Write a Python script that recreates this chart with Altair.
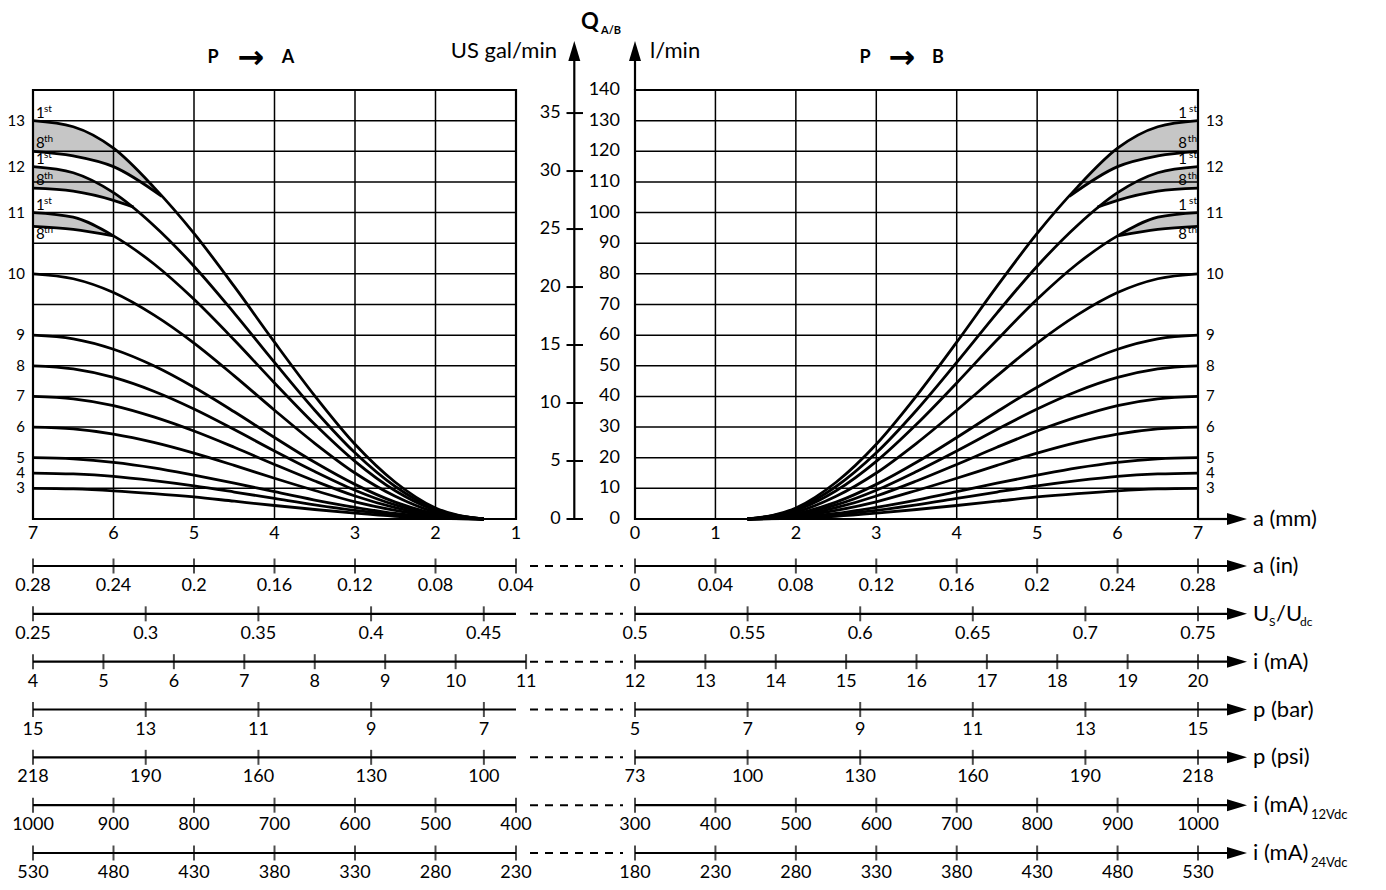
import altair as alt
import pandas as pd

FONT = "Lato"
INK = "#000000"
BAND = "#c6c6c6"

# ------------------------------------------------------------------ data
# spool stroke a (mm) and flow Q (l/min) of each characteristic curve
A_GRID = [1.4, 2.0, 2.5, 3.0, 3.5, 4.0, 4.5, 5.0, 5.5, 6.0, 6.5, 7.0]
CURVE_NAMES = ["3", "4", "5", "6", "7", "8", "9", "10", "11", "12", "13"]
Q_3 = [0, 0.3, 0.9, 1.9, 3.1, 4.4, 5.8, 7.2, 8.3, 9.2, 9.8, 10]
Q_4 = [0, 0.4, 1.4, 2.8, 4.6, 6.7, 8.8, 10.8, 12.5, 13.9, 14.7, 15]
Q_5 = [0, 0.6, 1.8, 3.8, 6.2, 8.9, 11.7, 14.3, 16.7, 18.5, 19.6, 20]
Q_6 = [0, 0.8, 2.8, 5.6, 9.3, 13.3, 17.5, 21.5, 25.0, 27.7, 29.4, 30]
Q_7 = [0, 1.1, 3.7, 7.5, 12.4, 17.8, 23.4, 28.7, 33.3, 37.0, 39.2, 40]
Q_8 = [0, 1.4, 4.6, 9.4, 15.5, 22.2, 29.2, 35.9, 41.7, 46.2, 49.0, 50]
Q_9 = [0, 1.7, 5.5, 11.3, 18.5, 26.6, 35.0, 43.0, 50.0, 55.4, 58.8, 60]
Q_10 = [0, 2.2, 7.4, 15.0, 24.7, 35.5, 46.7, 57.4, 66.6, 73.9, 78.4, 80]
Q_11 = [0, 2.8, 9.2, 18.8, 30.9, 44.4, 58.4, 71.7, 83.3, 92.4, 98.5, 100]
Q_12 = [0, 3.2, 10.6, 21.6, 35.5, 51.1, 67.2, 82.5, 95.8, 106.5, 113.0, 115]
Q_13 = [0, 3.6, 12.0, 24.4, 40.2, 57.7, 75.9, 93.2, 108.3, 121.0, 128.0, 130]
CURVE_VALUES = [Q_3, Q_4, Q_5, Q_6, Q_7, Q_8, Q_9, Q_10, Q_11, Q_12, Q_13]

# grey bands between the "1st" and "8th" curves of the three largest sizes
BAND_NAMES = ["11", "12", "13"]
A_11_BAND = [6.0, 6.5, 7.0]
Q_11_1ST = [92.4, 98.5, 100]
Q_11_8TH = [92.4, 94.5, 95.5]
A_12_BAND = [5.75, 6.0, 6.5, 7.0]
Q_12_1ST = [101.8, 106.5, 113.0, 115]
Q_12_8TH = [101.8, 104.0, 107.0, 108.0]
A_13_BAND = [5.4, 6.0, 6.5, 7.0]
Q_13_1ST = [105.3, 121.0, 128.0, 130]
Q_13_8TH = [105.3, 115.0, 118.5, 120.0]
BAND_A = [A_11_BAND, A_12_BAND, A_13_BAND]
BAND_1ST = [Q_11_1ST, Q_12_1ST, Q_13_1ST]
BAND_8TH = [Q_11_8TH, Q_12_8TH, Q_13_8TH]

A_LEFT = [7, 6, 5, 4, 3, 2, 1]
A_RIGHT = [0, 1, 2, 3, 4, 5, 6, 7]
Q_GRID = [0, 10, 20, 30, 40, 50, 60, 70, 80, 90, 100, 110, 120, 130, 140]
GAL_TICKS = [0, 5, 10, 15, 20, 25, 30, 35]
LPM_PER_GAL = 3.785

# auxiliary scales under the chart
ROW_KEYS = ["in", "U", "mA", "bar", "psi", "i12", "i24"]
IN_L = [0.28, 0.24, 0.2, 0.16, 0.12, 0.08, 0.04]
IN_R = [0, 0.04, 0.08, 0.12, 0.16, 0.2, 0.24, 0.28]
U_L = [0.25, 0.3, 0.35, 0.4, 0.45]
U_R = [0.5, 0.55, 0.6, 0.65, 0.7, 0.75]
MA_L = [4, 5, 6, 7, 8, 9, 10, 11]
MA_R = [12, 13, 14, 15, 16, 17, 18, 19, 20]
BAR_L = [15, 13, 11, 9, 7]
BAR_R = [5, 7, 9, 11, 13, 15]
PSI_L = ["218", "190", "160", "130", "100"]
PSI_R = ["73", "100", "130", "160", "190", "218"]
I12_L = [1000, 900, 800, 700, 600, 500, 400]
I12_R = [300, 400, 500, 600, 700, 800, 900, 1000]
I24_L = [530, 480, 430, 380, 330, 280, 230]
I24_R = [180, 230, 280, 330, 380, 430, 480, 530]

# value of each auxiliary scale at a = 7 mm / 1 mm (left) and a = 0 / 7 mm (right)
LEFT_SPAN = {"in": (0.28, 0.04), "U": (0.25, 0.4643), "mA": (4, 10.857),
             "bar": (15, 6.43), "psi": (15, 6.43), "i12": (1000, 400), "i24": (530, 230)}
LEFT_END = {"in": 0.04, "U": 0.4643, "mA": 11, "bar": 6.43, "psi": 6.43, "i12": 400, "i24": 230}
RIGHT_SPAN = {"in": (0, 0.28), "U": (0.5, 0.75), "mA": (12, 20), "bar": (5, 15),
              "psi": (5, 15), "i12": (300, 1000), "i24": (180, 530)}


def fmt(v):
    return f"{v:g}"


ROW_TICKS = {
    "in": (IN_L, [fmt(v) for v in IN_L], IN_R, [fmt(v) for v in IN_R]),
    "U": (U_L, [fmt(v) for v in U_L], U_R, [fmt(v) for v in U_R]),
    "mA": (MA_L, [fmt(v) for v in MA_L], MA_R, [fmt(v) for v in MA_R]),
    "bar": (BAR_L, [fmt(v) for v in BAR_L], BAR_R, [fmt(v) for v in BAR_R]),
    "psi": (BAR_L, PSI_L, BAR_R, PSI_R),
    "i12": (I12_L, [fmt(v) for v in I12_L], I12_R, [fmt(v) for v in I12_R]),
    "i24": (I24_L, [fmt(v) for v in I24_L], I24_R, [fmt(v) for v in I24_R]),
}

# ------------------------------------------------------------------ tables
rows = []
for name, vals in zip(CURVE_NAMES, CURVE_VALUES):
    for a, q in zip(A_GRID, vals):
        rows.append({"id": name + "-1st", "a": a, "q": q})
band_rows = []
for name, aa, v1, v8 in zip(BAND_NAMES, BAND_A, BAND_1ST, BAND_8TH):
    for a, q1, q8 in zip(aa, v1, v8):
        rows.append({"id": name + "-8th", "a": a, "q": q8})
        band_rows.append({"id": name, "a": a, "q1": q1, "q8": q8})
curves_df = pd.DataFrame(rows)
band_df = pd.DataFrame(band_rows)

end_df = pd.DataFrame({"name": CURVE_NAMES, "a": A_GRID[-1],
                       "q": [v[-1] for v in CURVE_VALUES]})
ord_above = pd.DataFrame({
    "digit": ["1", "1", "1", "8", "8"],
    "sup": ["st", "st", "st", "th", "th"],
    "a": A_GRID[-1],
    "q": [Q_11_1ST[-1], Q_12_1ST[-1], Q_13_1ST[-1], Q_12_8TH[-1], Q_13_8TH[-1]],
})
ord_below = pd.DataFrame({"digit": ["8"], "sup": ["th"], "a": A_GRID[-1], "q": [Q_11_8TH[-1]]})

# ------------------------------------------------------------------ scales
SX_L = alt.Scale(domain=[7, 1], range=[25, 508])
SX_R = alt.Scale(domain=[0, 7], range=[627, 1190])
SY_Q = alt.Scale(domain=[0, 140], range=[511, 82])
SY_GAL = alt.Scale(domain=[0, 140 / LPM_PER_GAL], range=[511, 82])
SY_ROW = alt.Scale(type="point", domain=ROW_KEYS, range=[558, 845], padding=0)

UP = "M-0.6,1L0,-1L0.6,1Z"
RIGHT = "M-1,-0.6L1,0L-1,0.6Z"
ARROW_X = 1229
LINE_END_X = 1222
NAME_X = 1245

layers = []


def txt(text, x, y, size=18, weight="normal", align="center", font=FONT):
    return alt.Chart(pd.DataFrame({"t": [text]})).mark_text(
        font=font, fontSize=size, fontWeight=weight, align=align,
        baseline="middle", color=INK
    ).encode(x=alt.value(x), y=alt.value(y), text="t:N")


def panel(sx, ticks, side):
    X = alt.X("a:Q", scale=sx, axis=None)
    Y = alt.Y("q:Q", scale=SY_Q, axis=None)
    out = []
    out.append(alt.Chart(band_df).mark_area(color=BAND, interpolate="monotone", opacity=1).encode(
        x=X, y=alt.Y("q1:Q", scale=SY_Q, axis=None), y2="q8:Q", detail="id:N"))
    vdf = pd.DataFrame({"a": ticks, "q0": Q_GRID[0], "q1": Q_GRID[-1]})
    out.append(alt.Chart(vdf).mark_rule(color=INK, strokeWidth=1.5).encode(
        x=X, y=alt.Y("q0:Q", scale=SY_Q, axis=None), y2="q1:Q"))
    hdf = pd.DataFrame({"q": Q_GRID, "a0": min(ticks), "a1": max(ticks)})
    out.append(alt.Chart(hdf).mark_rule(color=INK, strokeWidth=1.5).encode(
        x=alt.X("a0:Q", scale=sx, axis=None), x2="a1:Q", y=Y))
    out.append(alt.Chart(curves_df).mark_line(color=INK, strokeWidth=2.8, interpolate="monotone").encode(
        x=X, y=Y, detail="id:N"))
    bdf = pd.DataFrame({"a0": [min(ticks)], "a1": [max(ticks)], "q0": [Q_GRID[0]], "q1": [Q_GRID[-1]]})
    out.append(alt.Chart(bdf).mark_rect(fill="white", fillOpacity=0, stroke=INK, strokeWidth=2.2).encode(
        x=alt.X("a0:Q", scale=sx, axis=None), x2="a1:Q",
        y=alt.Y("q0:Q", scale=SY_Q, axis=None), y2="q1:Q"))
    # a (mm) tick labels
    out.append(alt.Chart(pd.DataFrame({"a": ticks, "q": 0})).mark_text(
        font=FONT, fontSize=18, dy=15, color=INK).encode(x=X, y=Y, text=alt.Text("a:Q")))
    # curve numbers
    al = "right" if side == "L" else "left"
    out.append(alt.Chart(end_df).mark_text(font=FONT, fontSize=15, align=al,
                                           dx=-8 if side == "L" else 8, color=INK).encode(
        x=X, y=Y, text="name:N"))
    # 1st / 8th labels
    for d, base_dy in ((ord_above, -8), (ord_below, 8)):
        if side == "L":
            out.append(alt.Chart(d).mark_text(font=FONT, fontSize=15, align="left", dx=3, dy=base_dy,
                                              color=INK).encode(x=X, y=Y, text="digit:N"))
            out.append(alt.Chart(d).mark_text(font=FONT, fontSize=10, align="left", dx=11, dy=base_dy - 4,
                                              color=INK).encode(x=X, y=Y, text="sup:N"))
        else:
            out.append(alt.Chart(d).mark_text(font=FONT, fontSize=15, align="right", dx=-11, dy=base_dy,
                                              color=INK).encode(x=X, y=Y, text="digit:N"))
            out.append(alt.Chart(d).mark_text(font=FONT, fontSize=10, align="right", dx=-1, dy=base_dy - 4,
                                              color=INK).encode(x=X, y=Y, text="sup:N"))
    return out


layers += panel(SX_L, A_LEFT, "L")
layers += panel(SX_R, A_RIGHT, "R")

# main a (mm) axis arrow on the right
layers.append(alt.Chart(pd.DataFrame({"a": [A_RIGHT[-1]], "q": [0]})).mark_rule(color=INK, strokeWidth=2.2).encode(
    x=alt.X("a:Q", scale=SX_R, axis=None), x2=alt.value(LINE_END_X), y=alt.Y("q:Q", scale=SY_Q, axis=None)))
layers.append(alt.Chart(pd.DataFrame({"q": [0]})).mark_point(shape=RIGHT, size=400, filled=True, opacity=1,
                                                             color=INK, strokeWidth=0).encode(
    x=alt.value(ARROW_X), y=alt.Y("q:Q", scale=SY_Q, axis=None)))
layers.append(alt.Chart(pd.DataFrame({"t": ["a (mm)"], "q": [0]})).mark_text(
    font=FONT, fontSize=22, align="left", color=INK).encode(
    x=alt.value(NAME_X), y=alt.Y("q:Q", scale=SY_Q, axis=None), text="t:N"))

# vertical flow axes
for xpix, q_start in ((566.3, Q_GRID[0]), (627, Q_GRID[-1])):
    layers.append(alt.Chart(pd.DataFrame({"q0": [q_start], "q1": [150]})).mark_rule(
        color=INK, strokeWidth=2.2).encode(
        x=alt.value(xpix), y=alt.Y("q0:Q", scale=SY_Q, axis=None), y2="q1:Q"))
    layers.append(alt.Chart(pd.DataFrame({"q": [152.7]})).mark_point(shape=UP, size=400, filled=True, opacity=1,
                                                                     color=INK, strokeWidth=0).encode(
        x=alt.value(xpix), y=alt.Y("q:Q", scale=SY_Q, axis=None)))
gal_df = pd.DataFrame({"g": GAL_TICKS})
layers.append(alt.Chart(gal_df).mark_rule(color=INK, strokeWidth=2).encode(
    x=alt.value(558.5), x2=alt.value(575), y=alt.Y("g:Q", scale=SY_GAL, axis=None)))
layers.append(alt.Chart(gal_df).mark_text(font=FONT, fontSize=18, align="right", color=INK).encode(
    x=alt.value(552.7), y=alt.Y("g:Q", scale=SY_GAL, axis=None), text="g:N"))
layers.append(alt.Chart(pd.DataFrame({"q": Q_GRID})).mark_text(font=FONT, fontSize=18, align="right",
                                                               color=INK).encode(
    x=alt.value(612), y=alt.Y("q:Q", scale=SY_Q, axis=None), text="q:N"))

layers.append(txt("Q", 573, 14, size=22, weight="bold", align="left"))
layers.append(txt("A/B", 593, 23, size=11, weight="bold", align="left"))
layers.append(txt("US gal/min", 549, 43, size=22, align="right"))
layers.append(txt("l/min", 642, 43, size=22, align="left"))
layers.append(txt("P", 205, 50, size=18, weight="bold"))
layers.append(txt("→", 243, 50, size=32, weight="bold", font="DejaVu Sans"))
layers.append(txt("A", 280, 50, size=18, weight="bold"))
layers.append(txt("P", 857, 50, size=18, weight="bold"))
layers.append(txt("→", 894, 50, size=32, weight="bold", font="DejaVu Sans"))
layers.append(txt("B", 930, 50, size=18, weight="bold"))

# ------------------------------------------------------------------ auxiliary scales
YR = alt.Y("row:N", scale=SY_ROW, axis=None)


def side_layers(key, pos, labels, span, rng, line_to):
    sx = alt.Scale(domain=list(span), range=rng)
    X = alt.X("v:Q", scale=sx, axis=None)
    df = pd.DataFrame({"v": pos, "lab": labels, "row": key})
    out = []
    if line_to is not None:
        dl = pd.DataFrame({"v": [span[0]], "v2": [line_to], "row": [key]})
        out.append(alt.Chart(dl).mark_rule(color=INK, strokeWidth=2.2).encode(x=X, x2="v2:Q", y=YR))
    out.append(alt.Chart(df).mark_tick(color=INK, thickness=2, size=15).encode(x=X, y=YR))
    out.append(alt.Chart(df).mark_text(font=FONT, fontSize=18, dy=20, color=INK).encode(
        x=X, y=YR, text="lab:N"))
    return out


for key in ROW_KEYS:
    lp, ll, rp, rl = ROW_TICKS[key]
    layers += side_layers(key, lp, ll, LEFT_SPAN[key], [25, 508], LEFT_END[key])
    layers += side_layers(key, rp, rl, RIGHT_SPAN[key], [627, 1190], None)

rows_df = pd.DataFrame({"row": ROW_KEYS, "a": A_RIGHT[0]})
layers.append(alt.Chart(rows_df).mark_rule(color=INK, strokeWidth=2.2).encode(
    x=alt.X("a:Q", scale=SX_R, axis=None), x2=alt.value(LINE_END_X), y=YR))
layers.append(alt.Chart(rows_df).mark_rule(color=INK, strokeWidth=2, strokeDash=[8, 7]).encode(
    x=alt.value(522), x2=alt.value(615), y=YR))
layers.append(alt.Chart(rows_df).mark_point(shape=RIGHT, size=400, filled=True, opacity=1, color=INK,
                                            strokeWidth=0).encode(x=alt.value(ARROW_X), y=YR))

NAME_MAIN = pd.DataFrame({"row": ROW_KEYS,
                          "t": ["a (in)", "U", "i (mA)", "p (bar)", "p (psi)", "i (mA)", "i (mA)"]})
layers.append(alt.Chart(NAME_MAIN).mark_text(font=FONT, fontSize=22, align="left", color=INK).encode(
    x=alt.value(NAME_X), y=YR, text="t:N"))
layers.append(alt.Chart(pd.DataFrame({"row": ["U"], "t": ["/U"]})).mark_text(
    font=FONT, fontSize=22, align="left", color=INK).encode(x=alt.value(NAME_X + 23), y=YR, text="t:N"))
layers.append(alt.Chart(pd.DataFrame({"row": ["U"], "t": ["S"]})).mark_text(
    font=FONT, fontSize=12, align="left", dy=8, color=INK).encode(x=alt.value(NAME_X + 16), y=YR, text="t:N"))
layers.append(alt.Chart(pd.DataFrame({"row": ["U"], "t": ["dc"]})).mark_text(
    font=FONT, fontSize=12, align="left", dy=8, color=INK).encode(x=alt.value(NAME_X + 47), y=YR, text="t:N"))
layers.append(alt.Chart(pd.DataFrame({"row": ["i12", "i24"], "t": ["12Vdc", "24Vdc"]})).mark_text(
    font=FONT, fontSize=13, align="left", dy=10, color=INK).encode(x=alt.value(NAME_X + 58), y=YR, text="t:N"))

chart = alt.layer(*layers).resolve_scale(x="independent", y="independent").properties(
    width=1370, height=874, padding=0, autosize=alt.AutoSizeParams(type="none"),
    background="white"
).configure_view(stroke=None)

chart.save("out.html", embed_options={"renderer": "svg", "actions": False})
